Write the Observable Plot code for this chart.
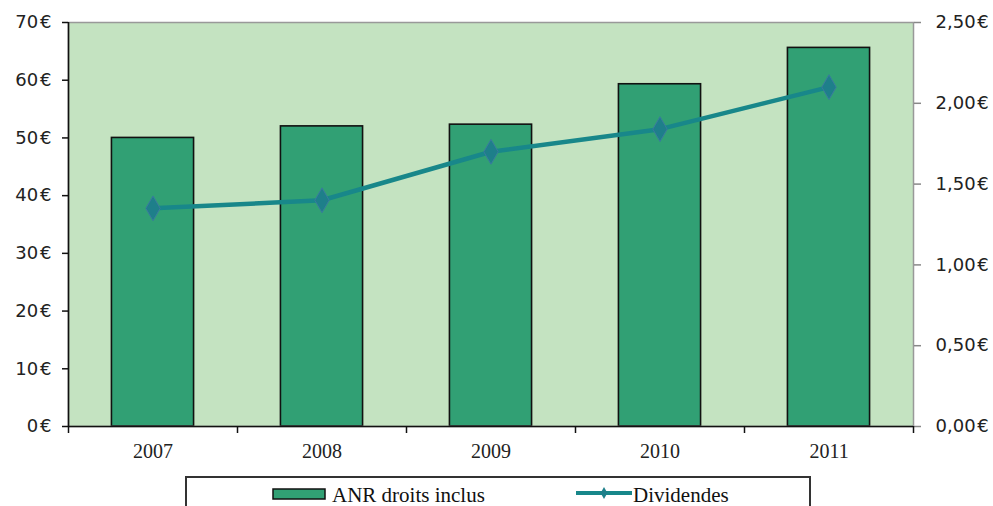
<!DOCTYPE html>
<html><head><meta charset="utf-8">
<script src="https://cdn.jsdelivr.net/npm/d3@7"></script>
<script src="https://cdn.jsdelivr.net/npm/@observablehq/plot@0.6"></script>
<style>
html,body{margin:0;padding:0;background:#fff;overflow:hidden;width:993px;height:506px;position:relative}
#chart{position:absolute;left:0;top:0}
#legend{position:absolute;left:0;top:470px}
</style></head><body><div id="chart"></div>
<svg id="legend" width="993" height="36"></svg>
<script>
const years = ["2007", "2008", "2009", "2010", "2011"];
const anr = [50.0, 52.0, 52.3, 59.3, 65.6];
const dividendes = [1.35, 1.40, 1.70, 1.84, 2.10];
const leftTicks = [0, 10, 20, 30, 40, 50, 60, 70];
const rightTicks = [0, 0.5, 1.0, 1.5, 2.0, 2.5];
const seriesNames = ["ANR droits inclus", "Dividendes"];

const ratio = 70 / 2.5;
const data = years.map((y, i) => ({i, year: y, anr: anr[i], div: dividendes[i]}));
const fmtRight = d3.format(".2f");

const chart = Plot.plot({
  width: 993, height: 475,
  marginLeft: 68, marginRight: 80, marginTop: 22, marginBottom: 49,
  style: {background: "transparent", fontFamily: "DejaVu Sans, sans-serif"},
  x: {type: "linear", domain: [0, 5]},
  y: {domain: [0, 70]},
  marks: [
    Plot.frame({fill: "#c4e3c1", stroke: "none"}),
    Plot.rectY(data, {x1: d => d.i + 0.257, x2: d => d.i + 0.743, y: "anr", fill: "#31a074", stroke: "#111", strokeWidth: 1.6}),
    Plot.frame({stroke: "#999", strokeWidth: 1.5, fill: "none"}),
    Plot.ruleX([0], {stroke: "#111", strokeWidth: 1.6}),
    Plot.ruleY([0], {stroke: "#111", strokeWidth: 1.6}),
    Plot.axisY({ticks: leftTicks, tickFormat: d => d + "\u200A€", tickSize: 6, tickPadding: 11, label: null,
      stroke: "#111", strokeWidth: 1.5, fill: "#222", fontSize: 18, fontFamily: "DejaVu Sans, sans-serif"}),
    Plot.axisY({anchor: "right", ticks: rightTicks.map(v => v * ratio), tickFormat: d => fmtRight(d / ratio).replace(".", ",") + "\u200A€",
      tickSize: 7, tickPadding: 15, label: null, stroke: "#888", strokeWidth: 1.5, fill: "#222", fontSize: 18, fontFamily: "DejaVu Sans, sans-serif"}),
    Plot.axisX({ticks: [0, 1, 2, 3, 4, 5], tickFormat: () => "", tickSize: 7, label: null, stroke: "#111", strokeWidth: 1.5}),
    Plot.axisX({ticks: [0.5, 1.5, 2.5, 3.5, 4.5], tickFormat: d => years[Math.floor(d)], tickSize: 0, tickPadding: 17, label: null,
      fill: "#222", fontSize: 20, fontFamily: "Liberation Serif, serif"}),
    Plot.line(data, {x: d => d.i + 0.5, y: d => d.div * ratio, stroke: "#18878a", strokeWidth: 4.5}),
    Plot.dot(data, {x: d => d.i + 0.5, y: d => d.div * ratio, symbol: "diamond", r: 7.5, fill: "#1e7f8a", stroke: "#3a7aa0", strokeWidth: 1})
  ]
});
document.getElementById("chart").appendChild(chart);

// legend (below the chart)
const lg = d3.select("#legend");
lg.append("rect").attr("x", 186).attr("y", 7).attr("width", 624).attr("height", 60)
  .attr("fill", "#fff").attr("stroke", "#333").attr("stroke-width", 2);
lg.append("rect").attr("x", 273).attr("y", 19).attr("width", 52).attr("height", 10)
  .attr("fill", "#31a074").attr("stroke", "#111").attr("stroke-width", 1.5);
lg.append("text").attr("x", 332).attr("y", 32).text(seriesNames[0])
  .attr("font-family", "Liberation Serif, serif").attr("font-size", 21).attr("fill", "#111");
lg.append("line").attr("x1", 576).attr("x2", 632).attr("y1", 23).attr("y2", 23)
  .attr("stroke", "#18878a").attr("stroke-width", 4);
lg.append("path").attr("d", d3.symbol(d3.symbolDiamond, 40)()).attr("transform", "translate(604,23)")
  .attr("fill", "#1e7f8a");
lg.append("text").attr("x", 633).attr("y", 32).text(seriesNames[1])
  .attr("font-family", "Liberation Serif, serif").attr("font-size", 21).attr("fill", "#111");
</script>
</body></html>
